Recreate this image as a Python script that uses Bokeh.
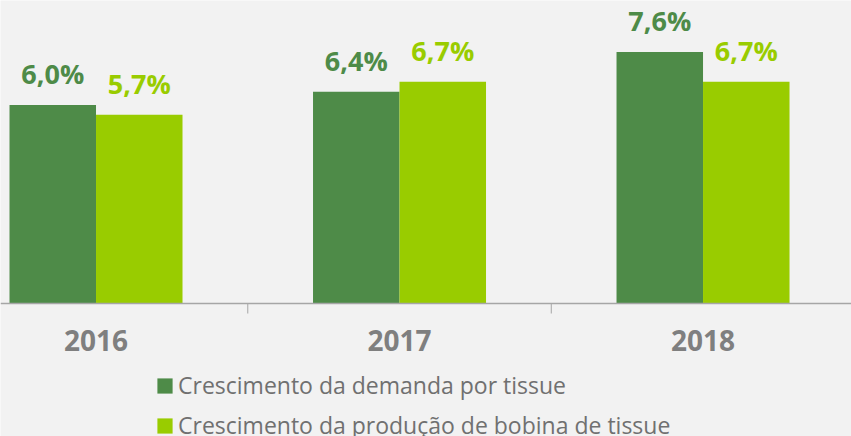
from bokeh.plotting import figure
from bokeh.models import ColumnDataSource, Range1d, Legend, LegendItem, Span
from bokeh.transform import dodge
from bokeh.core.properties import value
from bokeh.embed import file_html
from bokeh.resources import INLINE

years = ["2016", "2017", "2018"]
demanda = [6.0, 6.4, 7.6]
producao = [5.7, 6.7, 6.7]
serie_nomes = ["Crescimento da demanda por tissue", "Crescimento da produção de bobina de tissue"]

def fmt(v):
    return f"{v:.1f}".replace(".", ",") + "%"

idx = list(range(len(years)))
src = ColumnDataSource(dict(
    x=idx,
    year=years,
    zero=[0] * len(idx),
    demanda=demanda,
    producao=producao,
    lab_d=[fmt(v) for v in demanda],
    lab_p=[fmt(v) for v in producao],
))
bounds = [i + 0.5 for i in idx[:-1]]

DARK = "#4E8B48"
LIGHT = "#99CC00"
BG = "#F2F2F2"
AXIS = "#A6A6A6"
PXU = 33.1  # pixels per unit on the y scale

p = figure(width=851, height=436, output_backend="svg", toolbar_location=None,
           x_range=Range1d(-0.3147, 2.4892), y_range=Range1d(-133 / PXU, 303 / PXU),
           min_border=0)
p.background_fill_color = BG
p.border_fill_color = BG
p.outline_line_color = None
p.xgrid.visible = False
p.ygrid.visible = False
p.xaxis.visible = False
p.yaxis.visible = False

bw = 0.285
r1 = p.vbar(x=dodge("x", -bw / 2), top="demanda", width=bw, source=src,
            fill_color=DARK, line_color=None)
r2 = p.vbar(x=dodge("x", bw / 2), top="producao", width=bw, source=src,
            fill_color=LIGHT, line_color=None)

# category axis line and boundary ticks
p.add_layout(Span(location=0, dimension="width", line_color=AXIS, line_width=1.5))
p.segment(x0=bounds, x1=bounds, y0=[0] * len(bounds), y1=[-10 / PXU] * len(bounds),
          line_color=AXIS, line_width=1)

p.text(x="x", y="zero", text="year", source=src, text_align="center",
       text_baseline="middle", y_offset=37,
       text_font=value("Open Sans"), text_font_style="bold", text_font_size="28px",
       text_color="#7F7F7F")

p.text(x=dodge("x", -bw / 2), y="demanda", text="lab_d", source=src,
       text_align="center", text_baseline="middle", y_offset=-31,
       text_font=value("Open Sans"), text_font_style="bold", text_font_size="27px",
       text_color=DARK)
p.text(x=dodge("x", bw / 2), y="producao", text="lab_p", source=src,
       text_align="center", text_baseline="middle", y_offset=-31,
       text_font=value("Open Sans"), text_font_style="bold", text_font_size="27px",
       text_color=LIGHT)

legend = Legend(items=[LegendItem(label=serie_nomes[0], renderers=[r1]),
                       LegendItem(label=serie_nomes[1], renderers=[r2])],
                location=(155, -5), orientation="vertical",
                glyph_width=19, glyph_height=19, label_height=28, spacing=8,
                padding=0, margin=0, label_standoff=4,
                label_text_font="Open Sans", label_text_font_size="23px",
                label_text_color="#707070",
                border_line_color=None, background_fill_alpha=0)
p.add_layout(legend, "center")

open("out.html", "w").write(file_html(p, INLINE))
